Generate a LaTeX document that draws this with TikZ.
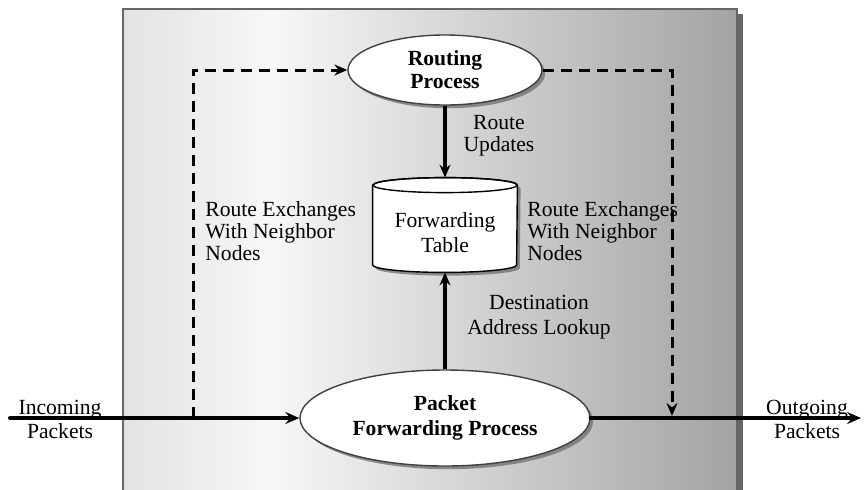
\documentclass[tikz,border=0pt]{standalone}
\usepackage{fontspec}
\setmainfont{Liberation Serif}
\usetikzlibrary{arrows.meta,shadows,shapes.geometric}
\pgfdeclarehorizontalshading{bgshade}{100bp}{rgb(0bp)=(0.89,0.89,0.89); rgb(25bp)=(0.89,0.89,0.89); rgb(37bp)=(0.97,0.97,0.97); rgb(75bp)=(0.64,0.64,0.64); rgb(100bp)=(0.64,0.64,0.64)}
\begin{document}
\begin{tikzpicture}[x=0.5pt,y=-0.5pt,
  lbl/.style={font=\fontsize{10.8}{12}\selectfont, align=center, inner sep=0pt},
  proc/.style={ellipse, draw=black!75, line width=0.7pt, fill=white, inner sep=0pt,
    drop shadow={shadow xshift=1.6pt, shadow yshift=-1.6pt, fill=black!55, opacity=0.8},
    align=center},
  flow/.style={line width=1.6pt, -{Stealth[length=6.5pt,width=5.5pt,inset=2.2pt]}},
  mainflow/.style={line width=2pt, line cap=round, -{Stealth[length=7pt,width=6pt,inset=2.5pt]}},
  dashflow/.style={line width=1.5pt, dash pattern=on 5.5pt off 3.5pt, -{Stealth[length=6.5pt,width=5.5pt,inset=2.2pt]}}]
\useasboundingbox (0,0) rectangle (864,489);
% background panel
\begin{scope}
\clip (0,0) rectangle (864,489);
\fill[black!60] (129,14) rectangle (743,500);
\shade[shading=bgshade] (123,9) rectangle (737,500);
\draw[black!60, line width=0.6pt] (123,500) -- (123,9) -- (737,9) -- (737,500);
\end{scope}
% process nodes
\node[proc, minimum width=97pt, minimum height=35pt,
  font=\fontsize{10.8}{11.5}\selectfont\bfseries] (rp) at (445,70) {Routing\\Process};
\node[proc, minimum width=145pt, minimum height=48pt,
  font=\fontsize{10.8}{12.5}\selectfont\bfseries] (pf) at (445,418) {Packet\\Forwarding Process};
% forwarding table (cylinder)
\node[minimum width=72pt, minimum height=47pt, inner sep=0pt] (tbl) at (445,225) {};
\draw[black, line width=0.7pt, fill=white,
  drop shadow={shadow xshift=1.6pt, shadow yshift=-1.6pt, fill=black!55, opacity=0.8}]
  ([yshift=-3.75pt]tbl.north west) -- ([yshift=3.75pt]tbl.south west)
  arc[start angle=180, end angle=360, x radius=36pt, y radius=3.75pt]
  -- ([yshift=-3.75pt]tbl.north east)
  arc[start angle=0, end angle=180, x radius=36pt, y radius=3.75pt] -- cycle;
\draw[black, line width=0.7pt] ([yshift=-3.75pt]tbl.north) ellipse[x radius=36pt, y radius=3.75pt];
\node[lbl, font=\fontsize{10.8}{12.5}\selectfont] (tbltext) at (445,233) {Forwarding\\Table};
% labels
\node[lbl, align=left, anchor=west, font=\fontsize{10.8}{9.4}\selectfont] (lx) at (205,231) {Route Exchanges\\With Neighbor\\Nodes};
\node[lbl, align=left, anchor=west, font=\fontsize{10.8}{9.4}\selectfont] (rx) at (527,231) {Route Exchanges\\With Neighbor\\Nodes};
\node[lbl, font=\fontsize{10.8}{11}\selectfont] (ru) at (499,136) {Route\\Updates};
\node[lbl, font=\fontsize{10.8}{12.5}\selectfont] (dal) at (539,317) {Destination\\Address Lookup};
\node[lbl] (inc) at (60,419) {Incoming\\Packets};
\node[lbl] (outg) at (807,419) {Outgoing\\Packets};
% connectors
\coordinate (inS) at (10,418);
\coordinate (outE) at (861,418);
\coordinate (dl) at (193,418);
\coordinate (dr) at (672,416);
\draw[dashflow] (dl) |- (rp.west);
\draw[dashflow] (rp.east) -| (dr);
\draw[mainflow] (inS) -- (pf.west);
\draw[mainflow] (pf.east) -- (outE);
\draw[flow] (rp.south) -- (tbl.north);
\draw[flow] (pf.north) -- (tbl.south);
\end{tikzpicture}
\end{document}
